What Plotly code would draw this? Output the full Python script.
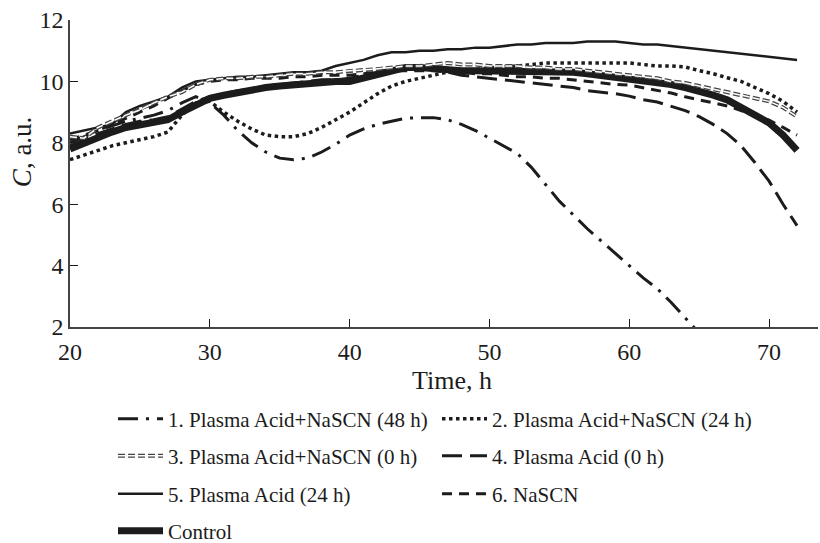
import plotly.graph_objects as go

# ---- data ----
time_h = [20, 21, 22, 23, 24, 25, 26, 27, 28, 29, 30, 31, 32, 33, 34, 35, 36, 37, 38, 39,
          40, 41, 42, 43, 44, 45, 46, 47, 48, 49, 50, 51, 52, 53, 54, 55, 56, 57, 58, 59,
          60, 61, 62, 63, 64, 65, 66, 67, 68, 69, 70, 71, 72]

time_s1 = time_h[:46]  # 20..65
s1_pa_nascn_48 = [8.0, 8.2, 8.4, 8.55, 8.7, 8.8, 8.9, 9.05, 9.3, 9.5, 9.3, 8.9, 8.4, 8.0, 7.7,
                  7.5, 7.45, 7.5, 7.7, 7.95, 8.25, 8.45, 8.6, 8.7, 8.8, 8.82, 8.82, 8.75, 8.6,
                  8.4, 8.15, 7.9, 7.65, 7.2, 6.65, 6.1, 5.65, 5.2, 4.8, 4.4, 4.0, 3.6, 3.25,
                  2.8, 2.3, 1.8]

s2_pa_nascn_24 = [7.45, 7.6, 7.75, 7.9, 8.0, 8.1, 8.2, 8.35, 8.9, 9.3, 9.35, 9.0, 8.7, 8.45,
                  8.25, 8.2, 8.2, 8.3, 8.5, 8.75, 9.0, 9.3, 9.6, 9.85, 10.0, 10.1, 10.2, 10.3,
                  10.35, 10.4, 10.45, 10.48, 10.5, 10.55, 10.6, 10.6, 10.6, 10.6, 10.6, 10.6,
                  10.6, 10.55, 10.5, 10.5, 10.47, 10.35, 10.25, 10.12, 10.0, 9.8, 9.6, 9.35, 9.0]

s3_pa_nascn_0 = [8.2, 8.15, 8.5, 8.7, 8.9, 9.07, 9.3, 9.5, 9.65, 9.9, 10.05, 10.1, 10.1, 10.15,
                 10.15, 10.2, 10.25, 10.25, 10.3, 10.3, 10.35, 10.37, 10.4, 10.45, 10.5, 10.5,
                 10.55, 10.6, 10.55, 10.55, 10.5, 10.5, 10.5, 10.45, 10.45, 10.4, 10.4, 10.35,
                 10.3, 10.25, 10.2, 10.15, 10.1, 10.0, 9.95, 9.85, 9.75, 9.65, 9.55, 9.45,
                 9.35, 9.15, 8.85]

s4_pa_0 = [7.9, 8.1, 8.3, 8.45, 8.6, 8.7, 8.75, 8.85, 9.1, 9.35, 9.5, 9.6, 9.7, 9.75, 9.85,
           9.9, 9.95, 10.0, 10.05, 10.05, 10.1, 10.2, 10.3, 10.4, 10.45, 10.45, 10.4, 10.3,
           10.2, 10.15, 10.1, 10.05, 10.0, 9.95, 9.9, 9.85, 9.8, 9.7, 9.65, 9.6, 9.52, 9.4,
           9.33, 9.2, 9.05, 8.85, 8.6, 8.3, 7.9, 7.35, 6.75, 6.0, 5.3]

s5_pa_24 = [8.3, 8.4, 8.5, 8.6, 9.0, 9.2, 9.35, 9.5, 9.8, 10.0, 10.05, 10.1, 10.15, 10.15,
            10.2, 10.25, 10.3, 10.3, 10.35, 10.5, 10.6, 10.7, 10.85, 10.95, 10.95, 11.0,
            11.0, 11.05, 11.05, 11.1, 11.1, 11.15, 11.2, 11.2, 11.25, 11.25, 11.25, 11.3,
            11.3, 11.3, 11.25, 11.2, 11.2, 11.15, 11.1, 11.05, 11.0, 10.95, 10.9, 10.85,
            10.8, 10.75, 10.7]

s6_nascn = [8.1, 8.25, 8.4, 8.6, 8.8, 9.0, 9.2, 9.45, 9.7, 9.9, 10.0, 10.05, 10.05, 10.1,
            10.1, 10.1, 10.15, 10.15, 10.2, 10.2, 10.2, 10.25, 10.3, 10.35, 10.35, 10.35,
            10.35, 10.3, 10.3, 10.25, 10.25, 10.2, 10.15, 10.15, 10.1, 10.1, 10.05, 10.0,
            9.95, 9.9, 9.88, 9.8, 9.72, 9.62, 9.5, 9.4, 9.32, 9.2, 9.05, 8.9, 8.74, 8.5, 8.25]

control = [7.8, 8.0, 8.2, 8.35, 8.5, 8.6, 8.65, 8.75, 9.0, 9.25, 9.45, 9.55, 9.65, 9.7, 9.8,
           9.85, 9.9, 9.95, 10.0, 10.0, 10.0, 10.1, 10.25, 10.35, 10.45, 10.45, 10.4, 10.35,
           10.35, 10.35, 10.35, 10.35, 10.35, 10.3, 10.3, 10.3, 10.3, 10.25, 10.2, 10.15,
           10.1, 10.05, 10.0, 9.9, 9.8, 9.7, 9.55, 9.4, 9.15, 8.9, 8.65, 8.25, 7.75]

x_ticks = [20, 30, 40, 50, 60, 70]
y_ticks = [2, 4, 6, 8, 10, 12]

names = ["1. Plasma Acid+NaSCN (48 h)", "2. Plasma Acid+NaSCN (24 h)",
         "3. Plasma Acid+NaSCN (0 h)", "4. Plasma Acid (0 h)",
         "5. Plasma Acid (24 h)", "6. NaSCN", "Control"]

INK = "#1c1c1c"
FONT = "Liberation Serif"

fig = go.Figure()

# Control (thick) drawn first
fig.add_trace(go.Scatter(x=time_h, y=control, mode="lines", name=names[6],
                         line=dict(color=INK, width=7), legend="legend7"))
fig.add_trace(go.Scatter(x=time_s1, y=s1_pa_nascn_48, mode="lines", name=names[0],
                         line=dict(color=INK, width=3, dash="20px,8px,3px,8px"), legend="legend"))
fig.add_trace(go.Scatter(x=time_h, y=s2_pa_nascn_24, mode="lines", name=names[1],
                         line=dict(color=INK, width=3.5, dash="3.5px,3.5px"), legend="legend2"))
fig.add_trace(go.Scatter(x=time_h, y=s4_pa_0, mode="lines", name=names[3],
                         line=dict(color=INK, width=3, dash="20px,8px"), legend="legend4"))
fig.add_trace(go.Scatter(x=time_h, y=s5_pa_24, mode="lines", name=names[4],
                         line=dict(color=INK, width=2.5), legend="legend5"))
fig.add_trace(go.Scatter(x=time_h, y=s6_nascn, mode="lines", name=names[5],
                         line=dict(color=INK, width=3, dash="10px,7px"), legend="legend6"))
# double-outlined dashed line (series 3)
fig.add_trace(go.Scatter(x=time_h, y=s3_pa_nascn_0, mode="lines", name=names[2],
                         line=dict(color="#444444", width=4, dash="7px,3px"), legend="legend3"))
fig.add_trace(go.Scatter(x=time_h, y=s3_pa_nascn_0, mode="lines", name="\u00a0",
                         line=dict(color="white", width=1.5, dash="7px,3px"), legend="legend8"))

W, H = 820, 543
def lg(px, py):
    return dict(x=px / W, y=1 - py / H, xref="container", yref="container",
                xanchor="left", yanchor="middle", bgcolor="rgba(0,0,0,0)",
                itemwidth=45,
                font=dict(family=FONT, size=21, color=INK), borderwidth=0)

col1, col2 = 113, 437
rows = [419, 456, 494, 531]
fig.update_layout(
    width=W, height=H,
    margin=dict(l=70, r=2, t=20, b=216, autoexpand=False),
    paper_bgcolor="white", plot_bgcolor="white",
    showlegend=True, hovermode=False,
    font=dict(family=FONT, size=20, color=INK),
    legend=lg(col1, rows[0]),
    legend2=lg(col2, rows[0]),
    legend3=lg(col1, rows[1]),
    legend8=lg(col1, rows[1]),
    legend4=lg(col2, rows[1]),
    legend5=lg(col1, rows[2]),
    legend6=lg(col2, rows[2]),
    legend7=lg(col1, rows[3]),
    xaxis=dict(range=[20, 73.5], tickvals=x_ticks, ticks="inside", ticklen=8,
               tickwidth=1.2, tickcolor=INK, showline=True, linecolor="#444",
               linewidth=1.5, showgrid=False, zeroline=False, ticklabelstandoff=2,
               tickfont=dict(family=FONT, size=24, color=INK)),
    yaxis=dict(range=[2, 12], tickvals=y_ticks, ticks="inside", ticklen=8,
               tickwidth=1.2, tickcolor=INK, showline=True, linecolor="#444",
               linewidth=1.5, showgrid=False, zeroline=False,
               tickfont=dict(family=FONT, size=24, color=INK)),
    annotations=[
        dict(text="<i>C</i>, a.u.", textangle=-90, showarrow=False,
             xref="paper", yref="paper", x=-0.064, y=0.57,
             xanchor="center", yanchor="middle",
             font=dict(family=FONT, size=27, color=INK)),
        dict(text="Time, h", showarrow=False,
             xref="paper", yref="paper", x=(452 - 70) / 748, y=-(380 - 327) / 307,
             xanchor="center", yanchor="middle",
             font=dict(family=FONT, size=26, color=INK)),
    ],
)

fig.write_html("out.html")
